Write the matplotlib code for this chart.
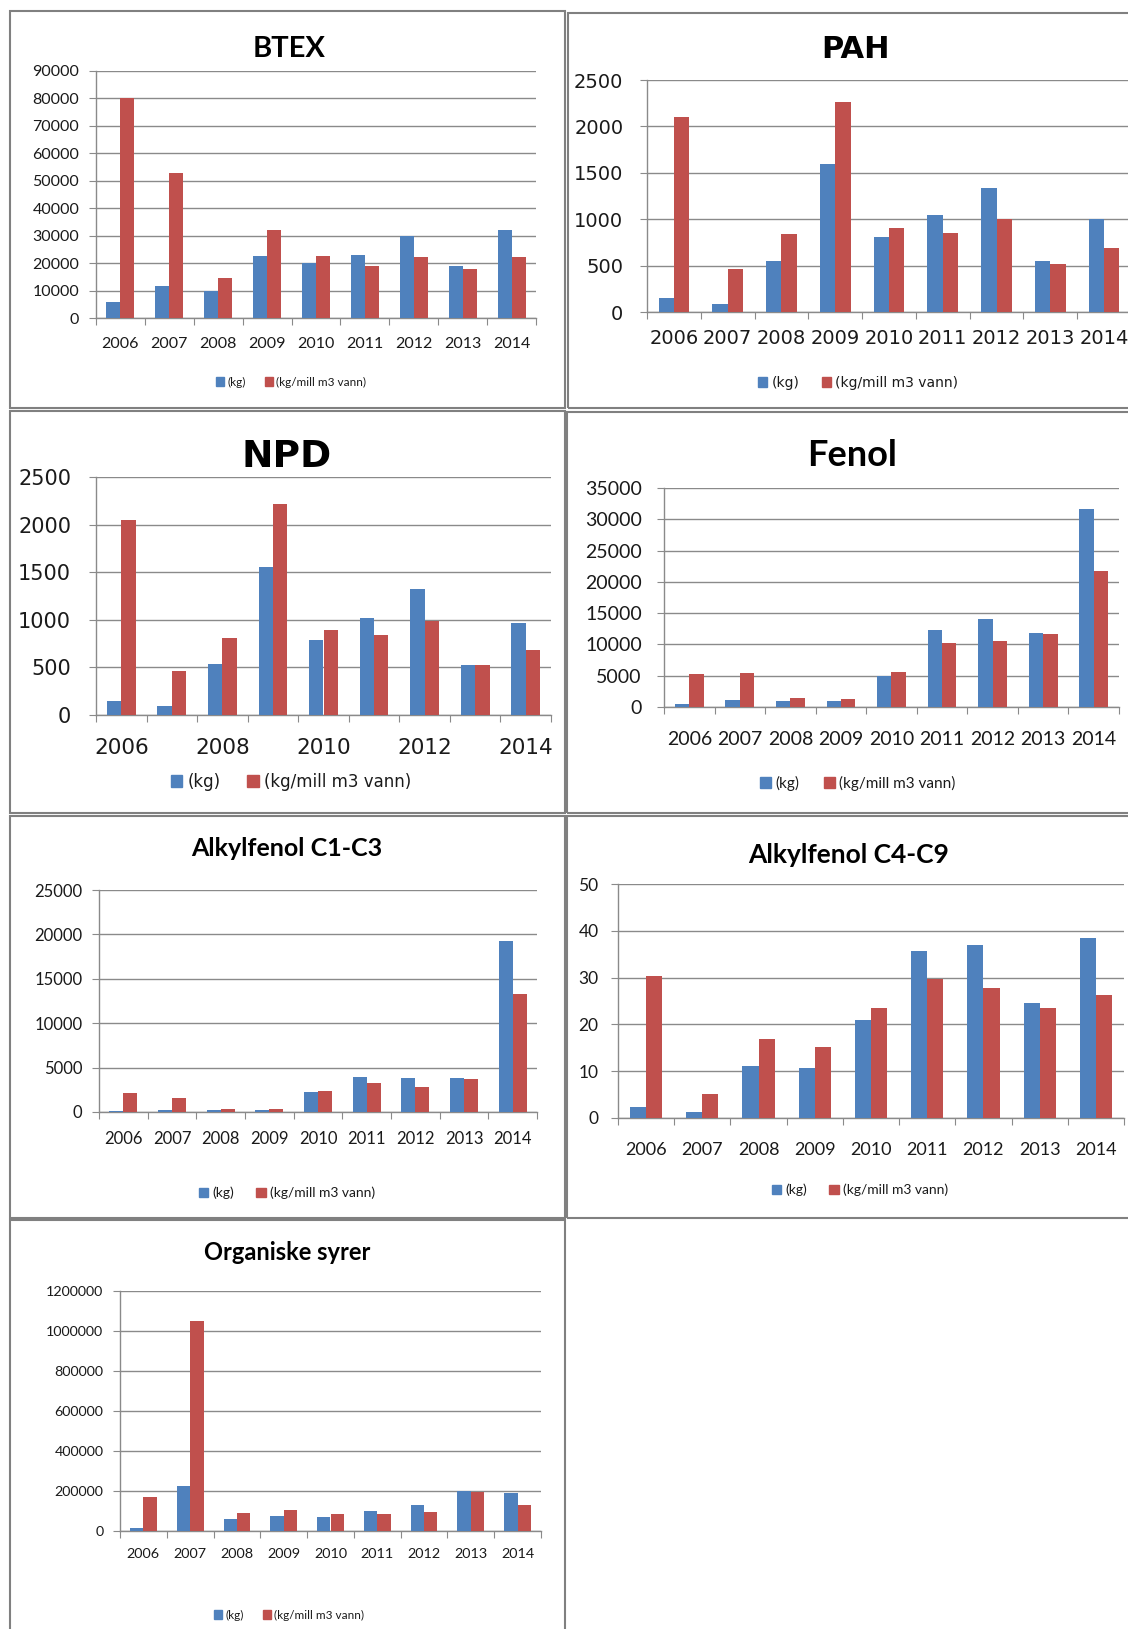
import numpy as np
import matplotlib
matplotlib.use('Agg')
import matplotlib.pyplot as plt
from matplotlib.patches import Patch, Rectangle

W, H = 1128, 1629

years = ['2006', '2007', '2008', '2009', '2010', '2011', '2012', '2013', '2014']

btex_kg = [6000, 11500, 10000, 22500, 20000, 23000, 30000, 18800, 32200]
btex_vann = [80000, 53000, 14500, 32200, 22500, 19000, 22200, 18000, 22200]

pah_kg = [150, 90, 550, 1590, 810, 1040, 1340, 550, 1000]
pah_vann = [2100, 460, 840, 2260, 910, 850, 1000, 520, 690]

npd_kg = [150, 90, 540, 1550, 790, 1020, 1320, 530, 970]
npd_vann = [2050, 460, 810, 2220, 890, 840, 990, 520, 680]

fenol_kg = [400, 1100, 900, 900, 5000, 12300, 14000, 11900, 31700]
fenol_vann = [5300, 5500, 1400, 1300, 5600, 10200, 10500, 11600, 21700]

alk13_kg = [150, 250, 250, 250, 2200, 3900, 3800, 3800, 19300]
alk13_vann = [2100, 1550, 350, 350, 2400, 3300, 2850, 3700, 13300]

alk49_kg = [2.4, 1.2, 11.2, 10.7, 21.0, 35.6, 37.0, 24.5, 38.5]
alk49_vann = [30.3, 5.2, 16.8, 15.2, 23.5, 29.6, 27.7, 23.5, 26.3]

org_kg = [13000, 225000, 60000, 75000, 72000, 100000, 130000, 200000, 190000]
org_vann = [170000, 1050000, 90000, 107000, 85000, 83000, 95000, 193000, 130000]

series_labels = ['(kg)', '(kg/mill m3 vann)']

BLUE = '#4F81BD'
RED = '#C0504D'
GRID = '#8a8a8a'
FRAME = '#808080'
TXT = '#1a1a1a'

fig = plt.figure(figsize=(W / 100, H / 100), dpi=100)


def fx(x):
    return x / W


def fy(y):
    return 1 - y / H


def frame(l, t, r, b):
    fig.add_artist(Rectangle((fx(l), fy(b)), fx(r - l), (b - t) / H,
                             transform=fig.transFigure, fill=False,
                             edgecolor=FRAME, linewidth=1.5))


def panel(kg, vann, title, ymax, step, rect, font, title_xy, title_size,
          ytick_size, ypad, xtick_size, xpad, leg_xy, leg_size, every=1):
    l, t, r, b = rect
    ax = fig.add_axes([fx(l), fy(b), fx(r - l), (b - t) / H])
    x = np.arange(len(years))
    w = 0.2857
    ax.bar(x - w / 2, kg, w, color=BLUE, zorder=3)
    ax.bar(x + w / 2, vann, w, color=RED, zorder=3)

    ax.set_xlim(-0.5, len(years) - 0.5)
    ax.set_ylim(0, ymax)
    yt = np.arange(0, ymax + step / 2, step)
    ax.set_yticks(yt)
    ax.set_yticklabels([f'{v:g}' if v < 1000 else str(int(v)) for v in yt],
                       fontsize=ytick_size, family=font, color=TXT)
    ax.yaxis.grid(True, color=GRID, linewidth=1.0, zorder=0)
    ax.tick_params(axis='y', length=5, color=GRID, pad=ypad)

    # tick marks between categories, labels centred under each group
    ax.set_xticks(np.arange(-0.5, len(years)))
    ax.set_xticklabels([])
    ax.set_xticks(x, minor=True)
    ax.set_xticklabels([y if i % every == 0 else '' for i, y in enumerate(years)],
                       minor=True, fontsize=xtick_size, family=font, color=TXT)
    ax.tick_params(axis='x', which='major', length=5, color=GRID)
    ax.tick_params(axis='x', which='minor', length=0, pad=xpad)

    for s in ['top', 'right']:
        ax.spines[s].set_visible(False)
    for s in ['left', 'bottom']:
        ax.spines[s].set_color(GRID)
        ax.spines[s].set_linewidth(1.0)
    ax.set_axisbelow(True)

    fig.text(fx(title_xy[0]), fy(title_xy[1]), title, ha='center', va='center',
             fontsize=title_size, fontweight='bold', family=font, color='black')

    handles = [Patch(color=BLUE), Patch(color=RED)]
    ax.legend(handles, series_labels, loc='center', ncol=2, frameon=False,
              bbox_to_anchor=(fx(leg_xy[0]), fy(leg_xy[1])),
              bbox_transform=fig.transFigure,
              prop={'family': font, 'size': leg_size},
              handlelength=0.7, handleheight=0.7, handletextpad=0.3,
              columnspacing=1.6, labelcolor=TXT)
    return ax


CAL = 'Lato'
VER = 'DejaVu Sans'

panel(btex_kg, btex_vann, 'BTEX', 90000, 10000, (96, 71, 536, 318), CAL,
      (289, 49), 21, 11.5, 7, 11.5, 14, (291, 382), 8.5)

panel(pah_kg, pah_vann, 'PAH', 2500, 500, (647, 80, 1131, 312), VER,
      (855, 50), 22, 14, 12, 14, 12, (858, 383), 10)

panel(npd_kg, npd_vann, 'NPD', 2500, 500, (96, 477, 551, 715), VER,
      (287, 457), 27, 15, 13, 15.5, 16.5, (291, 782), 12, every=2)

panel(fenol_kg, fenol_vann, 'Fenol', 35000, 5000, (664, 488, 1119, 707), CAL,
      (852, 455), 26, 14, 11, 14, 17, (858, 783), 11)

panel(alk13_kg, alk13_vann, 'Alkylfenol C1-C3', 25000, 5000, (99, 890, 537, 1112), CAL,
      (287, 849), 18, 12, 7, 12, 13.5, (287, 1193), 10)

panel(alk49_kg, alk49_vann, 'Alkylfenol C4-C9', 50, 10, (618, 884, 1124, 1118), CAL,
      (849, 855), 19, 12.5, 9, 13, 17, (860, 1190), 10)

panel(org_kg, org_vann, 'Organiske syrer', 1200000, 200000, (120, 1291, 541, 1531), CAL,
      (287, 1252), 17, 10.3, 7, 10.4, 12, (289, 1615), 8.5)

frame(10, 11, 565, 408)
frame(568, 13, 1135, 408)
frame(10, 411, 565, 813)
frame(567, 412, 1135, 813)
frame(10, 816, 565, 1218)
frame(567, 816, 1135, 1218)
frame(10, 1220, 565, 1640)

fig.savefig('out.png', dpi=100, facecolor='white')
